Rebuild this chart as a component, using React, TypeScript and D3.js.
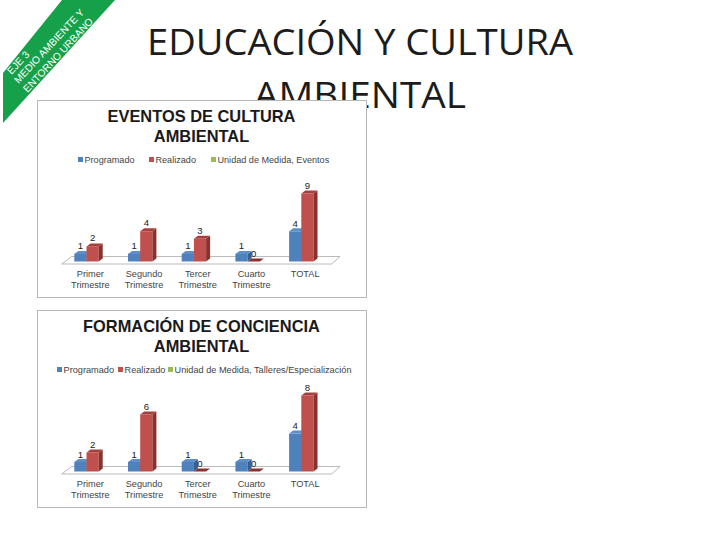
import React from "react";
import * as d3 from "d3";

const categories = [["Primer", "Trimestre"], ["Segundo", "Trimestre"], ["Tercer", "Trimestre"], ["Cuarto", "Trimestre"], ["TOTAL"]];
const eventosProgramado = [1, 1, 1, 1, 4];
const eventosRealizado = [2, 4, 3, 0, 9];
const formacionProgramado = [1, 1, 1, 1, 4];
const formacionRealizado = [2, 6, 0, 0, 8];
const eventosTitle = ["EVENTOS DE CULTURA", "AMBIENTAL"];
const formacionTitle = ["FORMACIÓN DE CONCIENCIA", "AMBIENTAL"];
const eventosLegend = ["Programado", "Realizado", "Unidad de Medida, Eventos"];
const formacionLegend = ["Programado", "Realizado", "Unidad de Medida, Talleres/Especialización"];
const ribbonLines = ["EJE 3", "MEDIO AMBIENTE Y", "ENTORNO URBANO"];

const BLUE = "#4F81BD", RED = "#C0504D", GREEN = "#9BBB59";
const BLUE_SIDE = "#38608F", RED_SIDE = "#8A312E";
const BLUE_TOP = "#5F8FC8", RED_TOP = "#A5403D";
const ARIAL = "'Liberation Sans', Arial, sans-serif";
const TEXT = "#444";

type ChartProps = {
  top: number;
  title: string[];
  titleSize: number;
  titleY: number[];
  legend: string[];
  legendSwatchX: number[];
  legendFont: number;
  legendY: number;
  programado: number[];
  realizado: number[];
  yMax: number;
  yPx: number;
  baseline: number;
  tickY: number[];
};

function Bar({ x, w, y, y0, color, side, topC }: { x: number; w: number; y: number; y0: number; color: string; side: string; topC: string }) {
  const dx = 4, dy = 3;
  return (
    <g>
      <rect x={x} y={y} width={w} height={Math.max(0, y0 - y)} fill={color} />
      <path d={`M${x + w},${y}L${x + w + dx},${y - dy}L${x + w + dx},${y0 - dy}L${x + w},${y0}Z`} fill={side} />
      <path d={`M${x},${y}L${x + dx},${y - dy}L${x + w + dx},${y - dy}L${x + w},${y}Z`} fill={topC} />
    </g>
  );
}

function Chart(p: ChartProps) {
  const x = d3.scaleBand<number>().domain(d3.range(categories.length)).range([63.5, 332]);
  const y = d3.scaleLinear().domain([0, p.yMax]).range([p.baseline, p.baseline - p.yPx]);
  const barW = 12.2;
  const off = 10.8;
  const b = p.baseline;
  const colors = [BLUE, RED, GREEN];
  return (
    <g>
      <rect x={37.5} y={p.top + 0.5} width={329} height={197} fill="#fff" stroke="#b8b8b8" />
      {p.title.map((t, i) => (
        <text key={i} x={201.5} y={p.titleY[i]} textAnchor="middle" fontFamily={ARIAL} fontWeight="bold" fontSize={p.titleSize} fill="#1a1a1a">{t}</text>
      ))}
      {p.legend.map((t, i) => (
        <g key={i}>
          <rect x={p.legendSwatchX[i]} y={p.legendY - 6} width={5} height={5} fill={colors[i]} />
          <text x={p.legendSwatchX[i] + 6.5} y={p.legendY} fontFamily={ARIAL} fontSize={p.legendFont} fill={TEXT}>{t}</text>
        </g>
      ))}
      <path d={`M61.7,${b + 2.5}L71.7,${b - 5}L340,${b - 5}L331.7,${b + 2.5}Z`} fill="#fff" stroke="#aaa" strokeWidth={0.8} />
      {categories.map((c, i) => {
        const x0 = (x(i) as number) + off;
        const x1 = x0 + barW;
        const yp = y(p.programado[i]);
        const yr = y(p.realizado[i]);
        return (
          <g key={i}>
            <Bar x={x0} w={barW} y={yp} y0={b} color={BLUE} side={BLUE_SIDE} topC={BLUE_TOP} />
            <Bar x={x1} w={barW} y={yr} y0={b} color={RED} side={RED_SIDE} topC={p.realizado[i] === 0 ? RED_SIDE : RED_TOP} />
            <text x={x0 + barW / 2} y={yp - 4.5} textAnchor="middle" fontFamily={ARIAL} fontSize={9.6} fill="#222">{p.programado[i]}</text>
            <text x={x1 + barW / 2} y={yr - 5} textAnchor="middle" fontFamily={ARIAL} fontSize={9.6} fill="#222">{p.realizado[i]}</text>
            {c.map((l, k) => (
              <text key={k} x={(x(i) as number) + x.bandwidth() / 2} y={p.tickY[k]} textAnchor="middle" fontFamily={ARIAL} fontSize={9.2} fill={TEXT}>{l}</text>
            ))}
          </g>
        );
      })}
    </g>
  );
}

export default function App() {
  return (
    <svg width={720} height={540} viewBox="0 0 720 540" style={{ position: "fixed", left: 0, top: 0, background: "#fff" }}>
      <g fontFamily="'Open Sans', 'Noto Sans', sans-serif" fontSize={37} fill="#1c1c1c" textAnchor="middle">
        <text x={360} y={55} textLength={426} lengthAdjust="spacingAndGlyphs">EDUCACIÓN Y CULTURA</text>
        <text x={360} y={108} textLength={212} lengthAdjust="spacingAndGlyphs">AMBIENTAL</text>
      </g>
      <path d="M62,0L115,0L3,123L3,73Z" fill="#16A04A" />
      <g fontFamily={ARIAL} fontSize={10.2} fill="#fff">
        <text transform="translate(11.5,75) rotate(-47)">{ribbonLines[0]}</text>
        <text transform="translate(18.5,84) rotate(-47)">{ribbonLines[1]}</text>
        <text transform="translate(27.5,93) rotate(-47)">{ribbonLines[2]}</text>
      </g>
      <Chart top={100} title={eventosTitle} titleSize={16.4} titleY={[122, 141.5]} legend={eventosLegend}
        legendSwatchX={[78, 149, 211]} legendFont={9.1} legendY={163} programado={eventosProgramado}
        realizado={eventosRealizado} yMax={9} yPx={68} baseline={261.5} tickY={[277, 288]} />
      <Chart top={310} title={formacionTitle} titleSize={16.4} titleY={[332, 351.5]} legend={formacionLegend}
        legendSwatchX={[57, 118, 168]} legendFont={9.2} legendY={373} programado={formacionProgramado}
        realizado={formacionRealizado} yMax={8} yPx={76} baseline={471.5} tickY={[487, 498]} />
    </svg>
  );
}
